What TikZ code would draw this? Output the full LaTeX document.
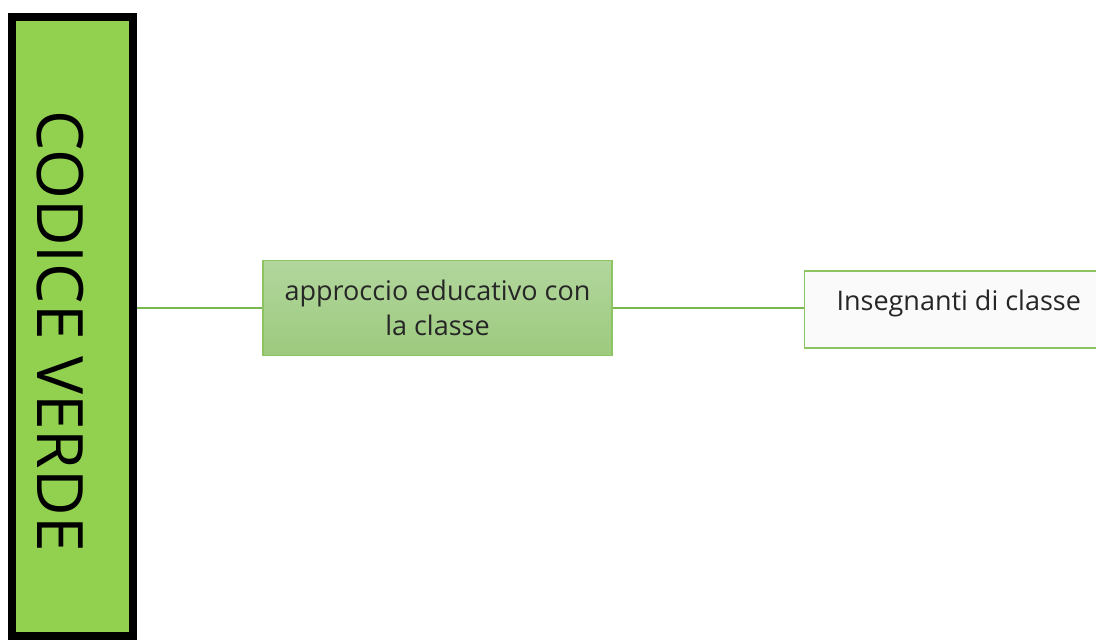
\documentclass[tikz,border=0pt]{standalone}
\usepackage{fontspec}
\setmainfont{Open Sans}
\begin{document}
\begin{tikzpicture}[x=1pt,y=-1pt,
  bigbox/.style={draw=black,line width=8pt,fill=codegreen},
  midbox/.style={draw=midborder,line width=1.2pt,top color=midtop,bottom color=midbot},
  leafbox/.style={draw=midborder,line width=1.2pt,fill=leaffill},
  link/.style={draw=linkgreen,line width=2pt}]
\definecolor{codegreen}{HTML}{92D050}
\definecolor{midborder}{HTML}{8CC363}
\definecolor{midtop}{HTML}{B2D69D}
\definecolor{midbot}{HTML}{9CCA7E}
\definecolor{leaffill}{HTML}{FAFAFA}
\definecolor{linkgreen}{HTML}{78B84E}
\useasboundingbox (0,0) rectangle (1096,643);
\node[bigbox,minimum width=121pt,minimum height=619pt,inner sep=0pt] (root) at (72.5,326.5) {};
\node[rotate=-90,font=\fontsize{64}{66}\selectfont,text=black] (rootlabel) at (60,331) {CODICE VERDE};
\node[midbox,minimum width=349pt,minimum height=95pt,inner sep=0pt,align=center,
  font=\fontsize{27}{35}\selectfont,text=black!85] (mid) at (437.5,308) {approccio educativo con\\la classe};
\node[leafbox,minimum width=300pt,minimum height=77pt,inner sep=0pt,anchor=west] (leaf) at (803.5,309.5) {};
\node[anchor=west,font=\fontsize{27}{30}\selectfont,text=black!85] (leaflabel) at (833,303) {Insegnanti di classe};
\draw[link] (root.east |- mid.west) -- (mid.west);
\draw[link] (mid.east) -- (mid.east -| leaf.west);
\end{tikzpicture}
\end{document}
